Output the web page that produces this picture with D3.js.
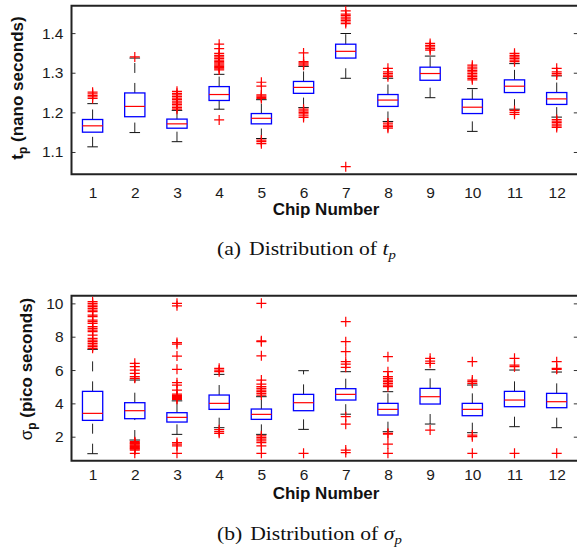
<!DOCTYPE html>
<html>
<head>
<meta charset="utf-8">
<script src="https://cdn.jsdelivr.net/npm/d3@7"></script>
<style>
  body { margin: 0; background: #fff; }
  svg { display: block; }
  .tick text { font-family: "Liberation Sans", Arial, sans-serif; fill: #1a1a1a; }
  .lbl { font-family: "Liberation Sans", Arial, sans-serif; font-weight: bold; fill: #111; }
  .cap { font-family: "Liberation Serif", "Times New Roman", serif; fill: #111; }
</style>
</head>
<body>
<svg id="fig" width="577" height="548"></svg>
<script>
// ---------- data ----------
const chips = [1, 2, 3, 4, 5, 6, 7, 8, 9, 10, 11, 12];

// (a) t_p in nano seconds
const tpQ1  = [1.150, 1.189, 1.160, 1.230, 1.171, 1.248, 1.337, 1.215, 1.281, 1.197, 1.250, 1.220];
const tpMed = [1.166, 1.215, 1.171, 1.245, 1.185, 1.263, 1.354, 1.231, 1.298, 1.213, 1.266, 1.234];
const tpQ3  = [1.182, 1.249, 1.183, 1.265, 1.197, 1.278, 1.372, 1.245, 1.314, 1.233, 1.282, 1.250];
const tpLo  = [1.113, 1.149, 1.126, 1.208, 1.134, 1.212, 1.286, 1.177, 1.237, 1.152, 1.208, 1.188];
const tpHi  = [1.222, 1.337, 1.205, 1.296, 1.232, 1.316, 1.399, 1.286, 1.342, 1.260, 1.323, 1.292];
const tpOut = [
  [1.235, 1.239, 1.243, 1.247, 1.251],
  [1.340],
  [1.208, 1.212, 1.216, 1.220, 1.224, 1.228, 1.232, 1.236, 1.240, 1.244, 1.248, 1.253],
  [1.181, 1.307, 1.310, 1.313, 1.316, 1.319, 1.322, 1.325, 1.328, 1.332, 1.336, 1.340, 1.344, 1.349, 1.361, 1.372],
  [1.121, 1.126, 1.130, 1.235, 1.238, 1.241, 1.244, 1.266, 1.276],
  [1.187, 1.191, 1.196, 1.200, 1.204, 1.208, 1.319, 1.322, 1.325, 1.328, 1.350],
  [1.063, 1.424, 1.428, 1.432, 1.436, 1.440, 1.444, 1.448, 1.456],
  [1.160, 1.164, 1.168, 1.173, 1.290, 1.294, 1.298, 1.302, 1.311],
  [1.357, 1.361, 1.365, 1.369, 1.374],
  [1.282, 1.286, 1.290, 1.294, 1.298, 1.302, 1.306, 1.310, 1.314, 1.319],
  [1.195, 1.200, 1.205, 1.328, 1.332, 1.336, 1.340, 1.344, 1.349],
  [1.162, 1.166, 1.170, 1.174, 1.178, 1.182, 1.294, 1.298, 1.302, 1.311]
];
const tpTicks = [1.1, 1.2, 1.3, 1.4];

// (b) sigma_p in pico seconds
const sgQ1  = [2.98, 3.08, 2.88, 3.64, 3.04, 3.56, 4.20, 3.30, 3.96, 3.26, 3.80, 3.74];
const sgMed = [3.40, 3.56, 3.16, 4.00, 3.34, 4.04, 4.54, 3.64, 4.40, 3.64, 4.20, 4.10];
const sgQ3  = [4.72, 4.04, 3.44, 4.50, 3.66, 4.54, 4.88, 4.00, 4.90, 4.00, 4.72, 4.60];
const sgLo  = [0.98, 1.80, 2.14, 2.54, 2.14, 2.44, 3.35, 2.30, 2.76, 2.24, 2.60, 2.54];
const sgHi  = [7.24, 5.40, 4.15, 5.74, 4.40, 5.96, 5.90, 4.70, 6.02, 5.10, 6.00, 5.88];
const sgOut = [
  [7.3, 7.4, 7.5, 7.6, 7.7, 7.8, 7.9, 8.1, 8.3, 8.4, 8.5, 8.6, 8.8, 8.9, 9.0, 9.2, 9.3, 9.5, 9.6, 9.7, 9.8, 9.9, 10.0, 10.1],
  [5.5, 5.6, 5.8, 6.0, 6.2, 6.4, 1.7, 1.65, 1.6, 1.55, 1.5, 1.45, 1.4, 1.35, 1.3, 1.25, 1.2, 1.0],
  [4.24, 4.30, 4.36, 4.42, 4.48, 4.56, 4.8, 5.1, 5.24, 6.04, 6.84, 7.55, 7.65, 9.85, 10.0, 1.65, 1.55, 1.45, 1.0],
  [5.9, 6.0, 6.1, 2.42, 2.3, 2.2],
  [4.5, 4.6, 4.7, 4.8, 4.9, 5.0, 5.16, 5.4, 6.85, 7.7, 7.75, 10.0, 2.05, 1.95, 1.85, 1.75, 1.65, 1.45, 1.0],
  [1.0],
  [6.16, 6.36, 6.5, 7.1, 7.7, 8.9, 3.2, 2.75, 1.2, 1.05],
  [5.0, 5.1, 5.2, 5.3, 5.4, 5.5, 5.6, 5.9, 6.8, 2.2, 2.15, 1.56, 1.0],
  [6.4, 6.54, 6.7, 2.4],
  [5.2, 5.3, 5.4, 6.5, 2.1, 2.0, 1.0],
  [6.2, 6.3, 6.7, 1.0],
  [6.04, 6.1, 6.5, 1.0]
];
const sgTicks = [2, 4, 6, 8, 10];

// ---------- layout ----------
const svg = d3.select("#fig");
const left = 71.5, right = 577.8;
const x = d3.scaleLinear().domain([0.5, 12.5]).range([left, right]);
const step = x(2) - x(1);

const panels = [
  {
    top: 5.8, bottom: 174.3, domain: [1.0437, 1.4689], ticks: tpTicks, fmt: d3.format(".1f"),
    q1: tpQ1, med: tpMed, q3: tpQ3, lo: tpLo, hi: tpHi, out: tpOut,
    xPad: 12.4, xlabY: 215, ylabX: 23, ylabY: 88, capY: 255,
    ylab: [["t", "bold", 0], ["p", "bold", 1], [" (nano seconds)", "bold", 0]],
    cap: [["(a)", false, 0], ["Distribution of ", false, 1], ["t", true, 0], ["p", true, 2]]
  },
  {
    top: 295.7, bottom: 460.7, domain: [0.56, 10.46], ticks: sgTicks, fmt: d3.format("d"),
    q1: sgQ1, med: sgMed, q3: sgQ3, lo: sgLo, hi: sgHi, out: sgOut,
    xPad: 8.4, xlabY: 498.5, ylabX: 32, ylabY: 369, capY: 540,
    ylab: [["σ", "normal", 0], ["p", "bold", 1], [" (pico seconds)", "bold", 0]],
    cap: [["(b)", false, 0], ["Distribution of ", false, 1], ["σ", true, 0], ["p", true, 2]]
  }
];

panels.forEach(p => {
  const y = d3.scaleLinear().domain(p.domain).range([p.bottom, p.top]);
  const g = svg.append("g");

  // left / right ticks (inward), labels on the left
  g.append("g").attr("transform", `translate(${left},0)`)
    .call(d3.axisLeft(y).tickValues(p.ticks).tickFormat(p.fmt).tickSize(-4).tickPadding(8).tickSizeOuter(0))
    .call(a => a.select(".domain").remove())
    .call(a => a.selectAll("line").attr("stroke", "#333"))
    .call(a => a.selectAll("text").attr("font-size", 15.5));
  g.append("g").attr("transform", `translate(${right},0)`)
    .call(d3.axisRight(y).tickValues(p.ticks).tickFormat("").tickSize(-4).tickSizeOuter(0))
    .call(a => a.select(".domain").remove())
    .call(a => a.selectAll("line").attr("stroke", "#333"));

  // chip labels
  g.append("g").attr("transform", `translate(0,${p.bottom})`)
    .call(d3.axisBottom(x).tickValues(chips).tickFormat(d3.format("d")).tickSize(0).tickPadding(p.xPad))
    .call(a => a.select(".domain").remove())
    .call(a => a.selectAll("text").attr("font-size", 15.5));

  // frame (top, left, bottom)
  g.append("path")
    .attr("d", `M${right + 2},${p.top} H${left} V${p.bottom} H${right + 2}`)
    .attr("fill", "none").attr("stroke", "#222").attr("stroke-width", 2);

  // boxes
  const bw = step * 0.24, cw = step * 0.125;
  const boxes = g.append("g").selectAll("g").data(chips).join("g");
  boxes.append("line") // lower whisker
    .attr("x1", d => x(d)).attr("x2", d => x(d))
    .attr("y1", (d, i) => y(p.lo[i])).attr("y2", (d, i) => y(p.q1[i]))
    .attr("stroke", "#222").attr("stroke-dasharray", "10,10");
  boxes.append("line") // upper whisker
    .attr("x1", d => x(d)).attr("x2", d => x(d))
    .attr("y1", (d, i) => y(p.q3[i])).attr("y2", (d, i) => y(p.hi[i]))
    .attr("stroke", "#222").attr("stroke-dasharray", "10,10");
  ["lo", "hi"].forEach(k => {
    boxes.append("line")
      .attr("x1", d => x(d) - cw).attr("x2", d => x(d) + cw)
      .attr("y1", (d, i) => y(p[k][i])).attr("y2", (d, i) => y(p[k][i]))
      .attr("stroke", "#111");
  });
  boxes.append("rect")
    .attr("x", d => x(d) - bw).attr("width", bw * 2)
    .attr("y", (d, i) => y(p.q3[i]))
    .attr("height", (d, i) => y(p.q1[i]) - y(p.q3[i]))
    .attr("fill", "none").attr("stroke", "#0000ff").attr("stroke-width", 1.3);
  boxes.append("line")
    .attr("x1", d => x(d) - bw).attr("x2", d => x(d) + bw)
    .attr("y1", (d, i) => y(p.med[i])).attr("y2", (d, i) => y(p.med[i]))
    .attr("stroke", "#ff0000").attr("stroke-width", 1.2);

  // outliers
  const pts = chips.flatMap((c, i) => p.out[i].map(v => ({ c, v })));
  g.append("g").selectAll("path").data(pts).join("path")
    .attr("d", d => `M${x(d.c) - 5},${y(d.v)} h10 M${x(d.c)},${y(d.v) - 5} v10`)
    .attr("stroke", "#ff0000").attr("stroke-width", 1.2).attr("fill", "none");

  // axis titles
  g.append("text").attr("class", "lbl").attr("font-size", 17)
    .attr("x", 326).attr("y", p.xlabY).attr("text-anchor", "middle")
    .text("Chip Number");

  const yl = g.append("text").attr("class", "lbl").attr("font-size", 17)
    .attr("transform", `translate(${p.ylabX},${p.ylabY}) rotate(-90)`)
    .attr("text-anchor", "middle");
  p.ylab.forEach(([t, w, sub]) => {
    yl.append("tspan").text(t).attr("font-weight", w)
      .attr("font-size", sub ? 12 : 17)
      .attr("dy", sub ? "0.35em" : (t.startsWith(" ") ? "-0.25em" : null));
  });

  // caption (the source figure is stretched sideways a little)
  const cp = g.append("text").attr("class", "cap").attr("font-size", 19)
    .attr("transform", `translate(217,${p.capY}) scale(1.14,1)`)
    .attr("xml:space", "preserve");
  p.cap.forEach(([t, it, kind]) => {
    const ts = cp.append("tspan").text(t).attr("font-style", it ? "italic" : null);
    if (kind === 1) ts.attr("dx", 7);
    if (kind === 2) ts.attr("font-size", 13).attr("dy", 4);
  });
});
</script>
</body>
</html>
